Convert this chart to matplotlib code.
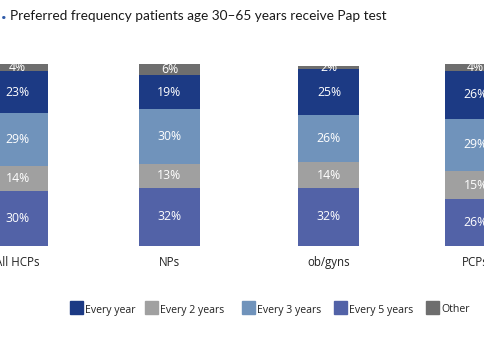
import matplotlib.pyplot as plt
from matplotlib.patches import Rectangle

plt.rcParams['font.family'] = ['Open Sans', 'DejaVu Sans']

groups = ['All HCPs', 'NPs', 'ob/gyns', 'PCPs']
# stacked bottom -> top
every5 = [30, 32, 32, 26]
every2 = [14, 13, 14, 15]
every3 = [29, 30, 26, 29]
every1 = [23, 19, 25, 26]
other = [4, 6, 2, 4]

series = [('Every 5 years', every5, '#5262a7'),
          ('Every 2 years', every2, '#a0a0a0'),
          ('Every 3 years', every3, '#7093bb'),
          ('Every year', every1, '#1c3a84'),
          ('Other', other, '#6e6e6e')]

xpos = [0, 0.995, 2.04, 3.0]   # bars are not evenly spaced in the original

fig = plt.figure(figsize=(4.85, 3.38), dpi=100)
ax = fig.add_axes([0, 0.2722, 1, 0.5385])
ax.set_xlim(-0.1146, 3.062)
ax.set_ylim(0, 100)
ax.axis('off')

bottom = [0, 0, 0, 0]
for name, vals, col in series:
    ax.bar(xpos, vals, width=0.40, bottom=bottom, color=col, edgecolor='none')
    for x, b, v in zip(xpos, bottom, vals):
        ax.text(x, b + v / 2, f'{v}%', ha='center', va='center', color='white', fontsize=8.8)
    bottom = [b + v for b, v in zip(bottom, vals)]

for x, g in zip(xpos, groups):
    ax.text(x, -8.8, g, ha='center', va='center', fontsize=8.3, color='#222222')

# title
fig.text(1 / 485, 1 - 14 / 338, '.', color='#2f5aa8', fontsize=14, fontweight='bold', va='center')
fig.text(10 / 485, 1 - 16 / 338, 'Preferred frequency patients age 30\u201365 years receive Pap test',
         fontsize=9.8, va='center', color='#1a1a1a', family=['Lato', 'DejaVu Sans'])

# legend drawn by hand
leg_order = [3, 1, 2, 0, 4]
leg_x = [70, 145, 242, 334, 426]
for i, lx in zip(leg_order, leg_x):
    name, vals, col = series[i]
    fig.patches.append(Rectangle((lx / 485, 1 - 314 / 338), 13 / 485, 13 / 338,
                                 color=col, transform=fig.transFigure, figure=fig))
    fig.text((lx + 15) / 485, 1 - 310 / 338, name, fontsize=7.6, va='center', color='#222222')

fig.savefig('out.png', dpi=100)
